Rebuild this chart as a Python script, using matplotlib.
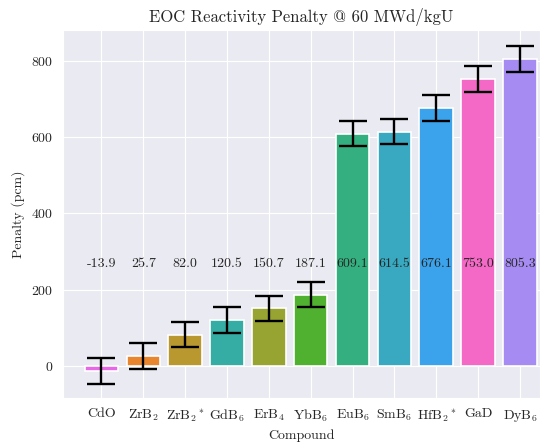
import numpy as np
import matplotlib
matplotlib.use("Agg")
import matplotlib.pyplot as plt
import seaborn as sns

# penalty data (pcm) at 60 MWd/kgU
compounds = ["CdO", r"ZrB$_2$", r"ZrB$_2$$^*$", r"GdB$_6$", r"ErB$_4$", r"YbB$_6$",
             r"EuB$_6$", r"SmB$_6$", r"HfB$_2$$^*$", "GaD", r"DyB$_6$"]
penalty = [-13.9, 25.7, 82.0, 120.5, 150.7, 187.1, 609.1, 614.5, 676.1, 753.0, 805.3]
errors = [33.5] * len(penalty)
colors = ["#e866e8", "#e8862f", "#b99830", "#36ada4", "#97a431", "#50b131",
          "#34b080", "#38a9c0", "#3ba3ec", "#f569c6", "#a68cf2"]

sns.set_style("darkgrid")
plt.rcParams["font.family"] = "serif"
plt.rcParams["font.serif"] = ["cmr10"]
plt.rcParams["mathtext.fontset"] = "cm"
plt.rcParams["axes.formatter.use_mathtext"] = True

fig = plt.figure(figsize=(5.48, 4.42), dpi=100)
ax = fig.add_axes([63 / 548, 1 - 398 / 442, 477 / 548, 368 / 442])

x = np.arange(len(compounds))
ax.bar(x, penalty, width=0.8, color=colors, edgecolor="white", linewidth=1.2, zorder=2)
ax.errorbar(x, penalty, yerr=errors, fmt="none", ecolor="black", elinewidth=1.7,
            capsize=10, capthick=1.7, zorder=3)

for xi, v in zip(x, penalty):
    ax.text(xi, 268, f"{v:.1f}", ha="center", va="center", fontsize=10, color=".15", zorder=4)

ax.set_xticks(x)
ax.set_xticklabels(compounds, fontsize=10)
ax.set_yticks([0, 200, 400, 600, 800])
ax.tick_params(axis="y", labelsize=10)
ax.set_xlim(-0.92, 10.48)
ax.set_ylim(-84, 881)
ax.set_xlabel("Compound", fontsize=10)
ax.set_ylabel("Penalty (pcm)", fontsize=10)
ax.set_title("EOC Reactivity Penalty @ 60 MWd/kgU", fontsize=12)

fig.savefig("out.png", dpi=100)
